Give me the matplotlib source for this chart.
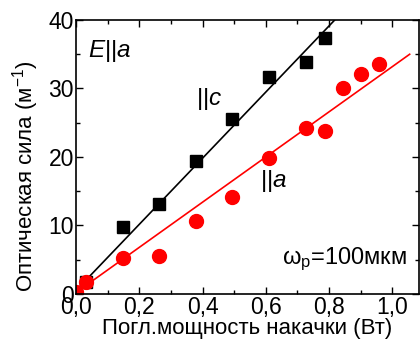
import numpy as np
import matplotlib
matplotlib.use("Agg")
import matplotlib.pyplot as plt
from matplotlib.ticker import MultipleLocator, FuncFormatter

plt.rcParams['font.family'] = ['Liberation Sans', 'DejaVu Sans']
plt.rcParams['mathtext.fontset'] = 'custom'
plt.rcParams['mathtext.rm'] = 'Liberation Sans'
plt.rcParams['mathtext.it'] = 'Liberation Sans:italic'

# ||c  (black squares)
power_c = [0.03, 0.148, 0.262, 0.379, 0.494, 0.611, 0.727, 0.787]
force_c = [1.8, 9.8, 13.1, 19.4, 25.6, 31.7, 33.9, 37.4]
# ||a  (red circles)
power_a = [0.0, 0.03, 0.148, 0.262, 0.379, 0.494, 0.611, 0.727, 0.787, 0.843, 0.900, 0.958]
force_a = [0.3, 1.8, 5.2, 5.55, 10.6, 14.1, 19.8, 24.2, 23.8, 30.0, 32.1, 33.6]

# linear fits (end points)
fit_c_x = [0.0, 0.818]
fit_c_y = [0.5, 40.0]
fit_a_x = [0.0, 1.055]
fit_a_y = [0.2, 35.0]

fig = plt.figure(figsize=(4.2, 3.39), dpi=100)
ax = fig.add_axes([0.181, 0.133, 0.817, 0.808])

ax.plot(fit_c_x, fit_c_y, color='black', lw=1.2)
ax.plot(fit_a_x, fit_a_y, color='#ff0000', lw=1.2)
ax.plot(power_c, force_c, 's', color='black', ms=8.5, ls='none')
ax.plot(power_a, force_a, 'o', color='#ff0000', ms=10, ls='none')

ax.set_xlim(0, 1.085)
ax.set_ylim(0, 40)
ax.xaxis.set_major_locator(MultipleLocator(0.2))
ax.xaxis.set_minor_locator(MultipleLocator(0.1))
ax.yaxis.set_major_locator(MultipleLocator(10))
ax.yaxis.set_minor_locator(MultipleLocator(5))
ax.xaxis.set_major_formatter(FuncFormatter(lambda v, p: f"{v:.1f}".replace('.', ',')))
ax.yaxis.set_major_formatter(FuncFormatter(lambda v, p: f"{v:.0f}"))
ax.tick_params(which='both', direction='in', top=True, right=True, labelsize=16.5, pad=1.5)
ax.tick_params(which='major', length=5, width=1)
ax.tick_params(which='minor', length=3, width=1)
for s in ax.spines.values():
    s.set_linewidth(1.2)

ax.set_xlabel("Погл.мощность накачки (Вт)", fontsize=16, labelpad=-1)
ax.set_ylabel("Оптическая сила (м$^{-1}$)", fontsize=16)
ax.yaxis.set_label_coords(-0.102, 0.43)

ax.text(0.035, 0.935, "$E||a$", transform=ax.transAxes, fontsize=17.5, va='top')
ax.text(0.35, 0.76, "$||c$", transform=ax.transAxes, fontsize=17.5, va='top')
ax.text(0.535, 0.46, "$||a$", transform=ax.transAxes, fontsize=17.5, va='top')
ax.text(0.60, 0.075, "ω$_\\mathrm{p}$=100мкм", transform=ax.transAxes, fontsize=17, va='bottom')

fig.savefig("out.png", dpi=100)
